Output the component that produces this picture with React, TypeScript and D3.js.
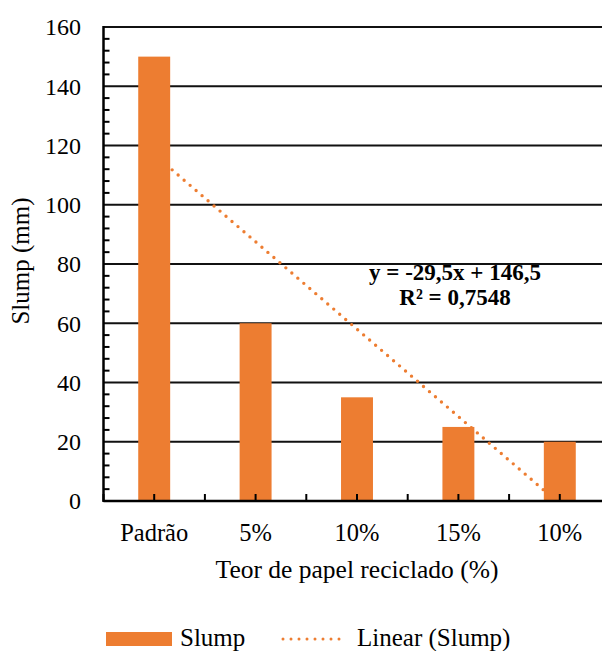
import React from "react";
import * as d3 from "d3";

const categories = ["Padrão", "5%", "10%", "15%", "10%"];
const slump = [150, 60, 35, 25, 20];
const yTicks = [0, 20, 40, 60, 80, 100, 120, 140, 160];
const trendSlope = -29.5;
const trendIntercept = 146.5;
const equationLines = ["y = -29,5x + 146,5", "R² = 0,7548"];

const W = 602;
const H = 651;
const ORANGE = "#ED7D31";
const FONT = '"Liberation Serif", "Times New Roman", Times, serif';

export default function App() {
  const left = 103.5;
  const right = 610.5;
  const top = 27;
  const bottom = 501;

  const x = d3
    .scaleBand<number>()
    .domain(categories.map((_, i) => i))
    .range([left, right])
    .paddingInner(0)
    .paddingOuter(0);
  const bw = x.bandwidth();
  const barW = bw * 0.315;
  const y = d3.scaleLinear().domain([0, 160]).range([bottom, top]);
  const center = (i: number) => (x(i) as number) + bw / 2;

  const xt = d3
    .scaleLinear()
    .domain([1, categories.length])
    .range([center(0), center(categories.length - 1)]);
  const trendPts: [number, number][] = [1, categories.length].map((v) => [
    xt(v),
    y(trendSlope * v + trendIntercept),
  ]);
  const line = d3.line();

  const minor = d3.range(0, 161, 4).filter((v) => v % 20 !== 0);
  const xTickPos: number[] = [];
  for (let i = 0; i <= categories.length * 2; i++) xTickPos.push(left + (i * bw) / 2);

  const ts: React.CSSProperties = { fontFamily: FONT };

  return (
    <svg
      width={W}
      height={H}
      style={{ position: "absolute", left: 0, top: 0, background: "#fff", fontFamily: FONT }}
    >
      <defs>
        <clipPath id="plotclip">
          <rect x={left} y={top} width={right - left} height={bottom - top} />
        </clipPath>
      </defs>
      {yTicks.slice(1).map((t) => (
        <line key={t} x1={left} x2={W} y1={y(t)} y2={y(t)} stroke="#111" strokeWidth={2} />
      ))}
      <path
        d={line(trendPts) || ""}
        clipPath="url(#plotclip)"
        fill="none"
        stroke={ORANGE}
        strokeWidth={3.4}
        strokeLinecap="round"
        strokeDasharray="0 7.9"
      />
      {slump.map((v, i) => (
        <rect
          key={i}
          x={center(i) - barW / 2}
          y={y(v)}
          width={barW}
          height={bottom - y(v)}
          fill={ORANGE}
        />
      ))}
      {minor.map((t) => (
        <line key={t} x1={left} x2={left + 6} y1={y(t)} y2={y(t)} stroke="#000" strokeWidth={2} />
      ))}
      {xTickPos.map((p, i) => (
        <line key={i} x1={p} x2={p} y1={bottom} y2={bottom - 7} stroke="#000" strokeWidth={2} />
      ))}
      <line x1={left} x2={left} y1={top - 1} y2={bottom + 1} stroke="#000" strokeWidth={2.5} />
      <line x1={left} x2={W} y1={bottom} y2={bottom} stroke="#000" strokeWidth={2.5} />
      {yTicks.map((t) => (
        <text key={t} x={81} y={y(t)} dy="0.35em" textAnchor="end" fontSize={24} fill="#000" style={ts}>
          {t}
        </text>
      ))}
      {categories.map((c, i) => (
        <text key={i} x={center(i)} y={541} textAnchor="middle" fontSize={24.5} fill="#000" style={ts}>
          {c}
        </text>
      ))}
      <text x={357} y={578} textAnchor="middle" fontSize={25.5} fill="#000" style={ts}>
        Teor de papel reciclado (%)
      </text>
      <text
        transform={`translate(29, 261) rotate(-90)`}
        textAnchor="middle"
        fontSize={25}
        fill="#000"
        style={ts}
      >
        Slump (mm)
      </text>
      <text x={455} y={280} textAnchor="middle" fontSize={23} fontWeight="bold" fill="#000" style={ts}>
        {equationLines[0]}
      </text>
      <text x={455} y={305} textAnchor="middle" fontSize={23} fontWeight="bold" fill="#000" style={ts}>
        {equationLines[1]}
      </text>
      <rect x={106} y={632} width={66} height={14} fill={ORANGE} />
      <text x={180} y={646} fontSize={25} fill="#000" style={ts}>
        Slump
      </text>
      <line
        x1={283}
        x2={347}
        y1={639}
        y2={639}
        stroke={ORANGE}
        strokeWidth={3}
        strokeLinecap="round"
        strokeDasharray="0 8"
      />
      <text x={357} y={646} fontSize={25} fill="#000" style={ts}>
        Linear (Slump)
      </text>
    </svg>
  );
}
